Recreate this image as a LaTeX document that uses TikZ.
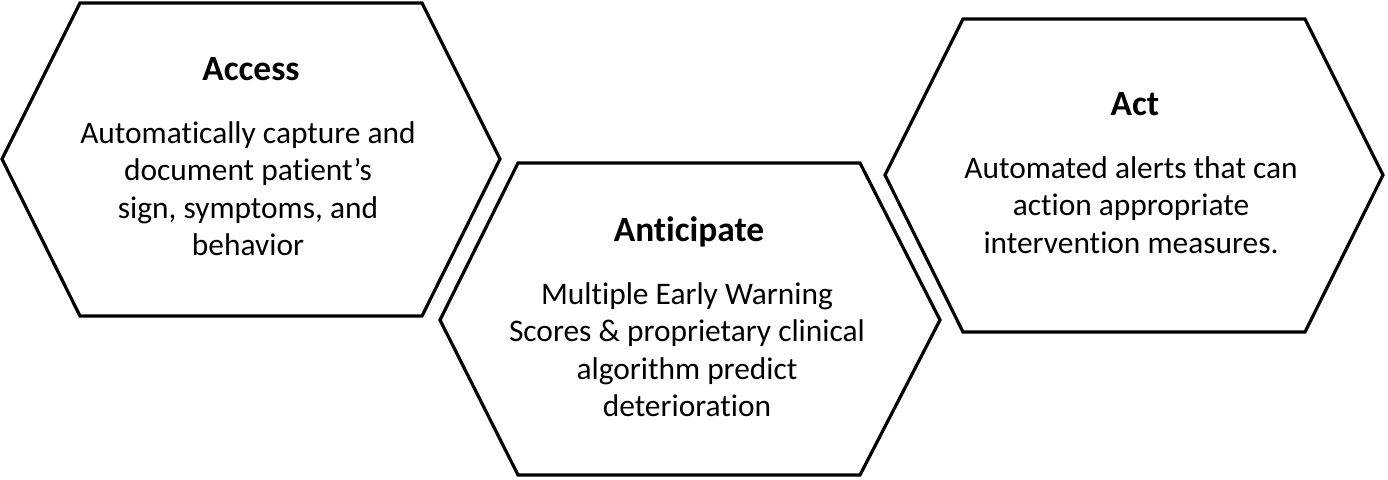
\documentclass[tikz,border=0pt]{standalone}
\usepackage{fontspec}
\setmainfont{Carlito}[Ligatures=NoCommon]

\begin{document}
\begin{tikzpicture}[x=0.5pt,y=-0.5pt,line width=1.6pt,
  title/.style={anchor=base,font=\bfseries\fontsize{17.7}{21}\selectfont},
  body/.style={anchor=base,align=center,inner sep=0pt,font=\fontsize{15.7}{18.75}\selectfont}]
\useasboundingbox (0,0) rectangle (1388,479);
\draw (2,159) -- (80,3) -- (422,3) -- (500,159) -- (422,316) -- (80,316) -- cycle;
\draw (440,320) -- (518,163) -- (860,163) -- (940,320) -- (860,475) -- (518,475) -- cycle;
\draw (885,175) -- (963,19) -- (1305,19) -- (1383,175) -- (1305,332) -- (963,332) -- cycle;
\node[title] (access) at (251,80) {Access};
\node[body] (accesstext) at (248,255.5) {Automatically capture and\\document patient’s\\sign, symptoms, and\\behavior};
\node[title] (anticipate) at (689,241) {Anticipate};
\node[body] (anticipatetext) at (687,416.5) {Multiple Early Warning\\Scores \& proprietary clinical\\algorithm predict\\deterioration};
\node[title] (act) at (1135,115) {Act};
\node[body] (acttext) at (1131,253) {Automated alerts that can\\action appropriate\\intervention measures.};
\end{tikzpicture}
\end{document}
